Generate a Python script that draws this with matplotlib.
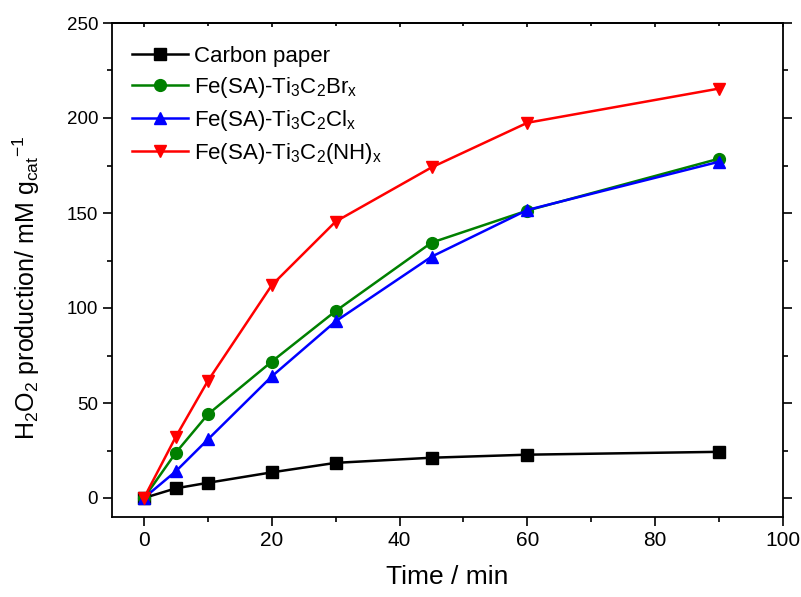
import matplotlib.pyplot as plt
from matplotlib.ticker import MultipleLocator

plt.rcParams['font.family'] = ['Liberation Sans', 'DejaVu Sans']
plt.rcParams['mathtext.fontset'] = 'custom'
plt.rcParams['mathtext.rm'] = 'Liberation Sans'
plt.rcParams['mathtext.it'] = 'Liberation Sans'

time_min = [0, 5, 10, 20, 30, 45, 60, 90]
carbon_paper = [0, 5.1, 8.0, 13.5, 18.5, 21.2, 22.8, 24.3]
fe_br = [0, 23.9, 44.0, 71.8, 98.4, 134.4, 151.3, 178.6]
fe_cl = [0, 14.1, 30.8, 64.0, 93.0, 127.0, 151.6, 177.0]
fe_nh = [0, 32.3, 61.6, 112.0, 145.5, 174.0, 197.5, 215.5]

labels = ['Carbon paper',
          r'Fe(SA)-Ti$_3$C$_2$Br$_x$',
          r'Fe(SA)-Ti$_3$C$_2$Cl$_x$',
          r'Fe(SA)-Ti$_3$C$_2$(NH)$_x$']


def main():
    fig = plt.figure(figsize=(8.01, 5.97), dpi=100)
    ax = fig.add_axes([112 / 801, 1 - 517 / 597, (783 - 112) / 801, (517 - 23) / 597])

    ax.plot(time_min, carbon_paper, marker='s', color='black', lw=1.8, ms=8, label=labels[0])
    ax.plot(time_min, fe_br, marker='o', color='#008000', lw=1.8, ms=8.5, label=labels[1])
    ax.plot(time_min, fe_cl, marker='^', color='blue', lw=1.8, ms=9, label=labels[2])
    ax.plot(time_min, fe_nh, marker='v', color='red', lw=1.8, ms=9, label=labels[3])

    ax.set_xlim(-5, 100)
    ax.set_ylim(-10, 250)
    ax.xaxis.set_major_locator(MultipleLocator(20))
    ax.xaxis.set_minor_locator(MultipleLocator(10))
    ax.yaxis.set_major_locator(MultipleLocator(50))
    ax.yaxis.set_minor_locator(MultipleLocator(25))
    ax.tick_params(which='both', direction='out', right=True, top=False, width=1.2)
    ax.tick_params(which='major', length=6.5)
    ax.tick_params(which='minor', length=3.6)
    ax.tick_params(axis='x', labelsize=15)
    ax.tick_params(axis='y', labelsize=13.5)

    # top ticks point inward, no labels
    top = ax.secondary_xaxis('top')
    top.xaxis.set_major_locator(MultipleLocator(20))
    top.xaxis.set_minor_locator(MultipleLocator(10))
    top.tick_params(which='both', direction='in', labeltop=False, width=1.2)
    top.tick_params(which='major', length=3)
    top.tick_params(which='minor', length=2)
    top.spines['top'].set_linewidth(1.3)

    for sp in ax.spines.values():
        sp.set_linewidth(1.3)

    ax.set_xlabel('Time / min', fontsize=19, labelpad=11)
    ax.set_ylabel(r'H$_2$O$_2$ production/ mM g$_{cat}$$^{-1}$', fontsize=18)
    ax.yaxis.set_label_coords(-0.105, 0.464)

    ax.legend(loc='upper left', frameon=False, fontsize=16, handlelength=2.5,
              labelspacing=0.35, borderaxespad=0, borderpad=0, handletextpad=0.3,
              bbox_to_anchor=(0.03, 0.953))

    fig.savefig('out.png', dpi=100)


if __name__ == "__main__":
    main()
